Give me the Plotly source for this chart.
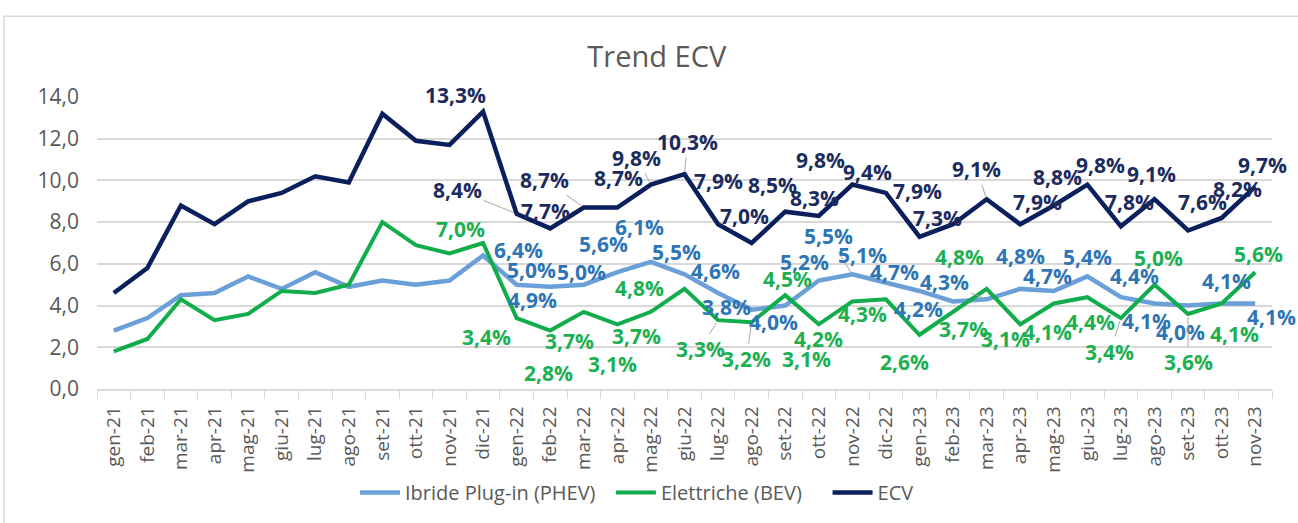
import plotly.graph_objects as go

months = ["gen-21", "feb-21", "mar-21", "apr-21", "mag-21", "giu-21", "lug-21", "ago-21",
          "set-21", "ott-21", "nov-21", "dic-21", "gen-22", "feb-22", "mar-22", "apr-22",
          "mag-22", "giu-22", "lug-22", "ago-22", "set-22", "ott-22", "nov-22", "dic-22",
          "gen-23", "feb-23", "mar-23", "apr-23", "mag-23", "giu-23", "lug-23", "ago-23",
          "set-23", "ott-23", "nov-23"]

phev = [2.8, 3.4, 4.5, 4.6, 5.4, 4.8, 5.6, 4.9, 5.2, 5.0, 5.2, 6.4,
        5.0, 4.9, 5.0, 5.6, 6.1, 5.5, 4.6, 3.8, 4.0, 5.2, 5.5, 5.1,
        4.7, 4.2, 4.3, 4.8, 4.7, 5.4, 4.4, 4.1, 4.0, 4.1, 4.1]

bev = [1.8, 2.4, 4.3, 3.3, 3.6, 4.7, 4.6, 5.0, 8.0, 6.9, 6.5, 7.0,
       3.4, 2.8, 3.7, 3.1, 3.7, 4.8, 3.3, 3.2, 4.5, 3.1, 4.2, 4.3,
       2.6, 3.7, 4.8, 3.1, 4.1, 4.4, 3.4, 5.0, 3.6, 4.1, 5.6]

ecv = [4.6, 5.8, 8.8, 7.9, 9.0, 9.4, 10.2, 9.9, 13.2, 11.9, 11.7, 13.3,
       8.4, 7.7, 8.7, 8.7, 9.8, 10.3, 7.9, 7.0, 8.5, 8.3, 9.8, 9.4,
       7.3, 7.9, 9.1, 7.9, 8.8, 9.8, 7.8, 9.1, 7.6, 8.2, 9.7]

y_ticks = [0, 2, 4, 6, 8, 10, 12, 14]

# data labels are shown from this index onward
label_start = 11

# label offsets (pixels, screen: +x right, +y down) for indices 11..34
ecv_off = [(-28, -17), (-59, -24), (-5, -17), (-39, -28), (1, -30), (-14, -27), (3, -32),
           (0, -43), (-7, -27), (-13, -27), (-4, -18), (-32, -25), (-18, -21), (18, -19),
           (-36, -33), (-10, -30), (17, -22), (4, -28), (13, -20), (9, -24), (-3, -25),
           (14, -28), (16, -29), (7, -22)]
phev_off = [(35, -6), (15, -15), (-18, 13), (-2, -13), (-14, -28), (-11, -35), (-8, -22),
            (-3, -22), (-25, -3), (-12, 16), (-14, -19), (-24, -38), (-23, -28), (-25, -19),
            (-35, 8), (-42, -17), (0, -33), (-6, -15), (0, -19), (14, -21), (-8, 18),
            (-8, 26), (5, -22), (16, 14)]
bev_off = [(-23, -14), (-30, 19), (-2, 42), (-14, 29), (-5, 40), (-14, 24), (-45, -1),
           (-18, 29), (-5, 37), (2, -16), (-12, 35), (-34, 38), (-23, 15), (-15, 27),
           (10, 17), (-27, -32), (-15, 15), (-6, 29), (3, 25), (-11, 34), (4, -27),
           (0, 48), (13, 31), (3, -18)]

# indices with a visible leader line
ecv_lead = [12, 14, 16, 17, 26]
phev_lead = [22, 26]
bev_lead = [18, 19, 30, 32]

C_PHEV, C_BEV, C_ECV = "#6A9FD8", "#12AD4B", "#0A1F5C"
T_PHEV, T_BEV, T_ECV = "#2E75B6", "#1DB052", "#1C2B5E"
GRAY = "#595959"
FONT = "Open Sans"
PAD = "\u00a0"

fig = go.Figure()
fig.add_trace(go.Scatter(x=months, y=phev, mode="lines", name="Ibride Plug-in (PHEV)" + PAD * 2,
                         line=dict(color=C_PHEV, width=4.5)))
fig.add_trace(go.Scatter(x=months, y=bev, mode="lines", name="Elettriche (BEV)" + PAD * 4,
                         line=dict(color=C_BEV, width=4)))
fig.add_trace(go.Scatter(x=months, y=ecv, mode="lines", name="ECV",
                         line=dict(color=C_ECV, width=4.5)))

annotations = []
def add_labels(values, offs, leads, color):
    for k, (dx, dy) in enumerate(offs):
        i = label_start + k
        v = values[i]
        annotations.append(dict(
            x=months[i], y=v, xref="x", yref="y",
            text=f"{v:.1f}%".replace(".", ","),
            showarrow=True, ax=dx, ay=dy, arrowhead=0, arrowwidth=1,
            arrowcolor="#A6A6A6" if i in leads else "rgba(0,0,0,0)",
            standoff=3, startstandoff=0,
            font=dict(family=FONT, size=21, color=color, weight="bold"),
        ))

add_labels(phev, phev_off, phev_lead, T_PHEV)
add_labels(bev, bev_off, bev_lead, T_BEV)
add_labels(ecv, ecv_off, ecv_lead, T_ECV)

fig.update_layout(
    width=1298, height=523,
    margin=dict(l=97, r=26, t=97, b=133),
    paper_bgcolor="white", plot_bgcolor="white",
    separators=",.",
    font=dict(family=FONT, color=GRAY),
    title=dict(text="Trend ECV", x=0.506, xref="container", xanchor="center",
               y=1 - 57 / 523, yref="container", yanchor="middle",
               font=dict(family=FONT, size=29, color=GRAY)),
    showlegend=True,
    legend=dict(orientation="h", x=0.4596, xanchor="center", y=-0.35, yanchor="middle",
                font=dict(family=FONT, size=20, color=GRAY), itemwidth=40,
                traceorder="normal"),
    annotations=annotations,
    shapes=[dict(type="rect", xref="paper", yref="paper",
                 x0=(4 - 97) / 1175, x1=(1400 - 97) / 1175,
                 y0=-0.6, y1=(390 - 16) / 293,
                 line=dict(color="#D9D9D9", width=1.5), layer="below")],
)
fig.update_xaxes(type="category", range=[-0.5, len(months) - 0.5],
                 tickson="boundaries", ticks="outside", ticklen=8, tickcolor="#D9D9D9",
                 showline=True, linecolor="#D9D9D9", linewidth=1.5,
                 showgrid=False, tickangle=-90,
                 tickfont=dict(family=FONT, size=19, color=GRAY), ticklabelstandoff=8)
fig.update_yaxes(range=[0, 14], tickvals=y_ticks, tickformat=".1f",
                 showgrid=True, gridcolor="#D9D9D9", gridwidth=1.5,
                 zeroline=False, showline=False,
                 tickfont=dict(family=FONT, size=21, color=GRAY), ticklabelstandoff=17)

fig.write_html("out.html", config={"displayModeBar": False},
               post_script="document.body.style.margin='0px';")
